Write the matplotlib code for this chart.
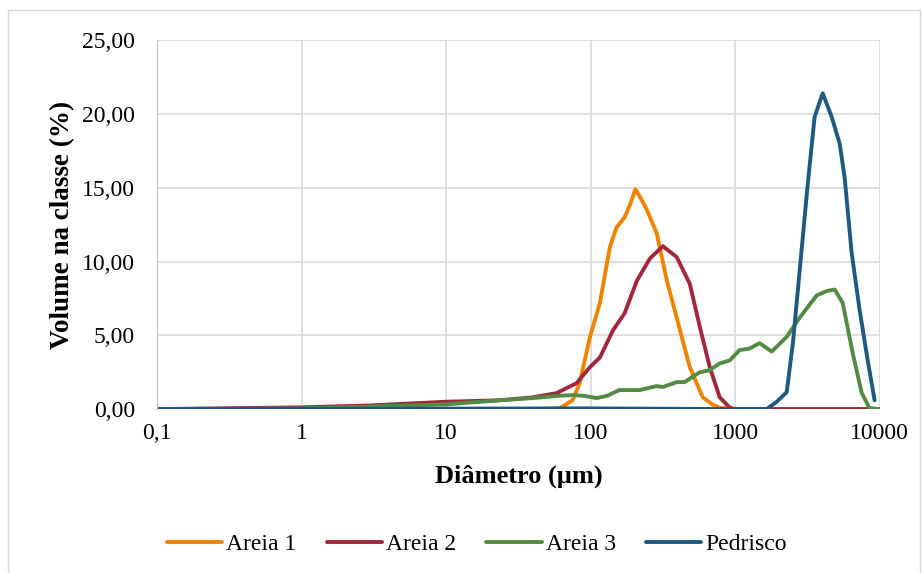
import matplotlib
matplotlib.use("Agg")
import matplotlib.pyplot as plt
from matplotlib.patches import Rectangle
from matplotlib.ticker import FuncFormatter, FixedLocator

# diameters (um) and volume per class (%)
areia1_x = [0.1, 1, 10, 40, 61, 75, 84, 99, 116, 136, 151, 172, 190, 204, 225, 245,
            287, 337, 394, 485, 597, 700, 782, 1000, 10000]
areia1_y = [0, 0, 0, 0, 0.05, 0.6, 1.76, 4.9, 7.2, 11.0, 12.3, 13.0, 14.0, 14.9, 14.2, 13.5,
            11.9, 8.7, 6.2, 2.85, 0.8, 0.3, 0.1, 0, 0]

areia2_x = [0.1, 1, 3, 10, 23.6, 40, 58, 80, 99, 116, 143, 172, 209, 257, 316, 394,
            485, 569, 667, 782, 918, 1000, 10000]
areia2_y = [0, 0.12, 0.25, 0.5, 0.6, 0.8, 1.08, 1.76, 2.85, 3.5, 5.35, 6.5, 8.7, 10.2, 11.04, 10.3,
            8.5, 5.6, 2.85, 0.8, 0.1, 0, 0]

areia3_x = [0.1, 1, 10, 23.6, 40, 60, 75, 90, 110, 130, 158, 218, 287, 316, 394, 447,
            569, 667, 782, 918, 1072, 1258, 1476, 1791, 2275, 2798, 3665, 4298, 4885,
            5548, 6509, 7510, 8511, 10000]
areia3_y = [0, 0.05, 0.32, 0.6, 0.75, 0.9, 0.95, 0.9, 0.75, 0.9, 1.29, 1.29, 1.56, 1.5, 1.83, 1.83,
            2.5, 2.64, 3.1, 3.3, 4.0, 4.1, 4.47, 3.9, 4.9, 6.2, 7.7, 8.0, 8.1,
            7.2, 3.8, 1.1, 0.07, 0]

pedrisco_x = [0.1, 100, 1000, 1653, 1941, 2275, 2512, 2798, 3162, 3548, 4036, 4656,
              5284, 5724, 6400, 7270, 8268, 9228]
pedrisco_y = [0, 0.05, 0, 0, 0.5, 1.15, 4.5, 9.4, 15.0, 19.8, 21.4, 19.8,
              18.0, 15.7, 10.6, 6.7, 3.3, 0.6]

series = [("Areia 1", areia1_x, areia1_y, "#F08300"),
          ("Areia 2", areia2_x, areia2_y, "#A0283A"),
          ("Areia 3", areia3_x, areia3_y, "#548B44"),
          ("Pedrisco", pedrisco_x, pedrisco_y, "#1E5A80")]

x_ticks = [0.1, 1, 10, 100, 1000, 10000]
x_labels = ["0,1", "1", "10", "100", "1000", "10000"]
y_ticks = [0, 5, 10, 15, 20, 25]

plt.rcParams['font.family'] = ['Liberation Serif', 'DejaVu Serif']

fig = plt.figure(figsize=(9.24, 5.73), dpi=100)
ax = fig.add_axes([0.170, 0.286, 0.782, 0.644])

for name, xs, ys, col in series:
    ax.plot(xs, ys, color=col, lw=2.8, label=name, solid_joinstyle='round',
            solid_capstyle='round')

ax.set_xscale('log')
ax.set_xlim(0.1, 10000)
ax.set_ylim(0, 25)
ax.xaxis.set_major_locator(FixedLocator(x_ticks))
ax.xaxis.set_minor_locator(FixedLocator([]))
ax.set_xticklabels(x_labels)
ax.set_yticks(y_ticks)
ax.yaxis.set_major_formatter(FuncFormatter(lambda v, p: f"{v:.2f}".replace('.', ',')))
ax.tick_params(length=0, labelsize=17)
ax.tick_params(axis='x', pad=10)
ax.tick_params(axis='y', pad=16)
ax.grid(True, color='#d9d9d9', lw=1.2)
ax.set_axisbelow(True)
for s in ['top', 'right', 'bottom']:
    ax.spines[s].set_visible(False)
ax.spines['left'].set_color('#bfbfbf')

ax.set_xlabel("Diâmetro (µm)", fontsize=19, fontweight='bold', labelpad=15)
ax.set_ylabel("Volume na classe (%)", fontsize=19.5, fontweight='bold', labelpad=5)

fig.legend(loc='center', bbox_to_anchor=(0.516, 0.05), ncol=4, frameon=False,
           fontsize=17, handlelength=2.35, handletextpad=0.17, columnspacing=1.27)

fig.patches.append(Rectangle((0.009, -0.05), 0.987, 1.0325, transform=fig.transFigure,
                             fill=False, edgecolor='#d9d9d9', lw=1))

fig.savefig("out.png", dpi=100)
